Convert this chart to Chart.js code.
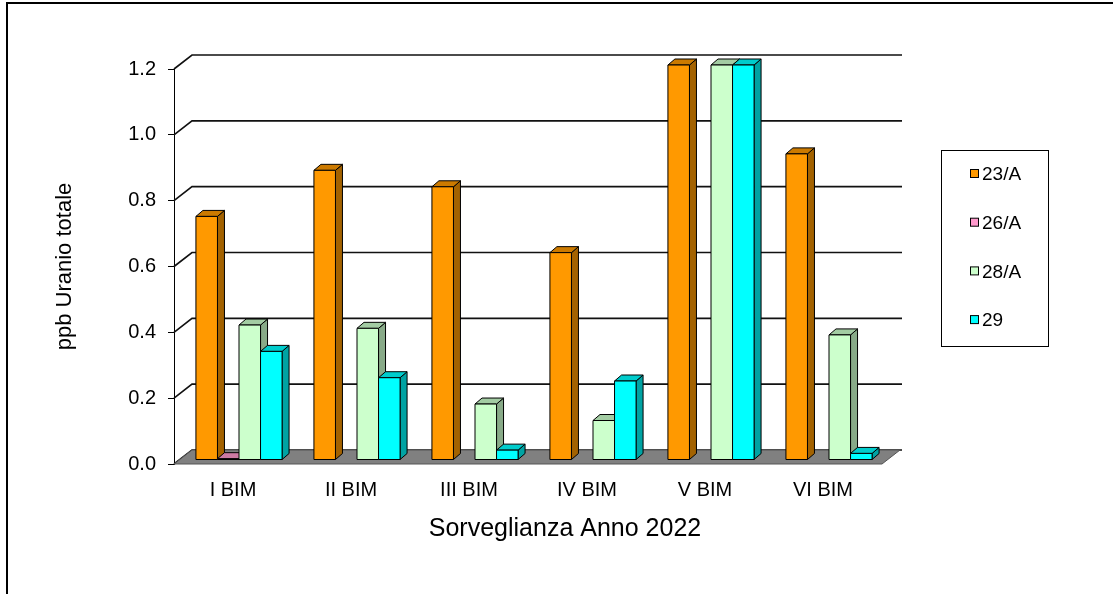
<!DOCTYPE html>
<html>
<head>
<meta charset="utf-8">
<script src="https://cdn.jsdelivr.net/npm/chart.js@4/dist/chart.umd.min.js"></script>
<style>
  html, body { margin: 0; padding: 0; background: #fff; }
  canvas { display: block; }
</style>
</head>
<body>
<canvas id="uranioChart" width="1113" height="594"></canvas>
<script>
// bimestri 2022
const categories = ['I BIM', 'II BIM', 'III BIM', 'IV BIM', 'V BIM', 'VI BIM'];
const seriesNames = ['23/A', '26/A', '28/A', '29'];
const values23A = [0.74, 0.88, 0.83, 0.63, 1.20, 0.93];
const values26A = [0.004, null, null, null, null, null];
const values28A = [0.41, 0.40, 0.17, 0.12, 1.20, 0.38];
const values29 = [0.33, 0.25, 0.03, 0.24, 1.20, 0.02];
const yTicks = [0.0, 0.2, 0.4, 0.6, 0.8, 1.0, 1.2];
const xTitle = 'Sorveglianza Anno 2022';

// front / side / top colours
const colors = [
  ['#FF9900', '#A36200', '#CC7A00'],
  ['#FF99CC', '#A36283', '#CC7AA3'],
  ['#CCFFCC', '#88AA88', '#A3CCA3'],
  ['#00FFFF', '#00A3A3', '#00CCCC']
];

const WALL_DX = 18, WALL_DY = -14;   // depth of the back wall
const BAR_OX = 6, BAR_OY = -4;       // bars sit a bit behind the front plane
const BAR_DX = 7, BAR_DY = -6;       // depth of each bar

function poly(ctx, pts, fill) {
  ctx.beginPath();
  ctx.moveTo(pts[0][0], pts[0][1]);
  for (let i = 1; i < pts.length; i++) ctx.lineTo(pts[i][0], pts[i][1]);
  ctx.closePath();
  ctx.fillStyle = fill;
  ctx.fill();
  ctx.stroke();
}

const frame3d = {
  id: 'frame3d',
  beforeDraw(chart) {
    const ctx = chart.ctx;
    ctx.save();
    ctx.fillStyle = '#fff';
    ctx.fillRect(0, 0, chart.width, chart.height);
    ctx.strokeStyle = '#000';
    ctx.lineWidth = 2;
    ctx.beginPath();
    ctx.moveTo(7, chart.height);
    ctx.lineTo(7, 3);
    ctx.lineTo(chart.width, 3);
    ctx.stroke();
    ctx.restore();
  },
  beforeDatasetsDraw(chart) {
    const {ctx, chartArea: ca, scales: {y}} = chart;
    ctx.save();
    // back wall gridlines + diagonals on the side wall
    ctx.strokeStyle = '#111';
    ctx.lineWidth = 1.6;
    yTicks.forEach(v => {
      const py = y.getPixelForValue(v);
      ctx.beginPath();
      ctx.moveTo(ca.left, py);
      ctx.lineTo(ca.left + WALL_DX, py + WALL_DY);
      ctx.lineTo(ca.right + WALL_DX + 2, py + WALL_DY);
      ctx.stroke();
    });
    // floor
    ctx.lineWidth = 1;
    ctx.strokeStyle = '#555';
    const b = y.getPixelForValue(0);
    poly(ctx, [[ca.left, b], [ca.right, b], [ca.right + WALL_DX, b + WALL_DY], [ca.left + WALL_DX, b + WALL_DY]], '#808080');

    // bars
    ctx.strokeStyle = '#000';
    ctx.lineWidth = 1;
    ctx.lineJoin = 'round';
    for (let i = 0; i < categories.length; i++) {
      chart.data.datasets.forEach((ds, d) => {
        if (ds.data[i] === null) return;
        const el = chart.getDatasetMeta(d).data[i];
        const p = el.getProps(['x', 'y', 'base', 'width'], true);
        const l = p.x - p.width / 2 + BAR_OX, r = p.x + p.width / 2 + BAR_OX;
        const t = p.y + BAR_OY, bt = p.base + BAR_OY;
        const c = colors[d];
        poly(ctx, [[r, t], [r + BAR_DX, t + BAR_DY], [r + BAR_DX, bt + BAR_DY], [r, bt]], c[1]);
        poly(ctx, [[l, t], [r, t], [r + BAR_DX, t + BAR_DY], [l + BAR_DX, t + BAR_DY]], c[2]);
        poly(ctx, [[l, t], [r, t], [r, bt], [l, bt]], c[0]);
      });
    }
    ctx.restore();
    return false;
  },
  afterDraw(chart) {
    const ctx = chart.ctx;
    ctx.save();
    // axis title, a bit right of the plot centre like the original
    ctx.fillStyle = '#000';
    ctx.font = '25px "Liberation Sans", Arial, sans-serif';
    ctx.textAlign = 'center';
    ctx.textBaseline = 'middle';
    ctx.fillText(xTitle, 565, 529);

    // legend
    ctx.strokeStyle = '#000';
    ctx.lineWidth = 1;
    ctx.strokeRect(941.5, 150.5, 107, 196);
    ctx.font = '19px "Liberation Sans", Arial, sans-serif';
    ctx.textAlign = 'left';
    seriesNames.forEach((name, d) => {
      const cy = 174 + d * 48.7;
      ctx.fillStyle = colors[d][0];
      ctx.fillRect(970.5, cy - 4.5, 8, 8);
      ctx.strokeRect(970.5, cy - 4.5, 8, 8);
      ctx.fillStyle = '#000';
      ctx.fillText(name, 982, cy + 1);
    });
    ctx.restore();
  }
};

Chart.defaults.font.family = '"Liberation Sans", Arial, sans-serif';
Chart.defaults.color = '#000';

const ctx = document.getElementById('uranioChart').getContext('2d');
new Chart(ctx, {
  type: 'bar',
  data: {
    labels: categories,
    datasets: [
      { label: seriesNames[0], data: values23A, backgroundColor: colors[0][0] },
      { label: seriesNames[1], data: values26A, backgroundColor: colors[1][0] },
      { label: seriesNames[2], data: values28A, backgroundColor: colors[2][0] },
      { label: seriesNames[3], data: values29, backgroundColor: colors[3][0] }
    ]
  },
  options: {
    responsive: false,
    animation: false,
    layout: { padding: { left: 48, top: 69, right: 231, bottom: 48 } },
    categoryPercentage: 0.73,
    barPercentage: 1.0,
    plugins: { legend: { display: false }, tooltip: { enabled: false } },
    scales: {
      x: {
        grid: { display: false, drawTicks: false },
        border: { display: false },
        ticks: { padding: 14, font: { size: 20 } },
        afterFit: s => { s.height = 82; }
      },
      y: {
        min: 0,
        max: 1.2,
        grid: { drawOnChartArea: false, drawTicks: true, tickLength: 6, color: '#000' },
        border: { display: true, color: '#000', width: 1 },
        ticks: { stepSize: 0.2, padding: 12, font: { size: 20 }, callback: v => Number(v).toFixed(1) },
        title: { display: true, text: 'ppb Uranio totale', font: { size: 22 }, padding: 4 },
        afterFit: s => { s.width = 126; }
      }
    }
  },
  plugins: [frame3d]
});
</script>
</body>
</html>
